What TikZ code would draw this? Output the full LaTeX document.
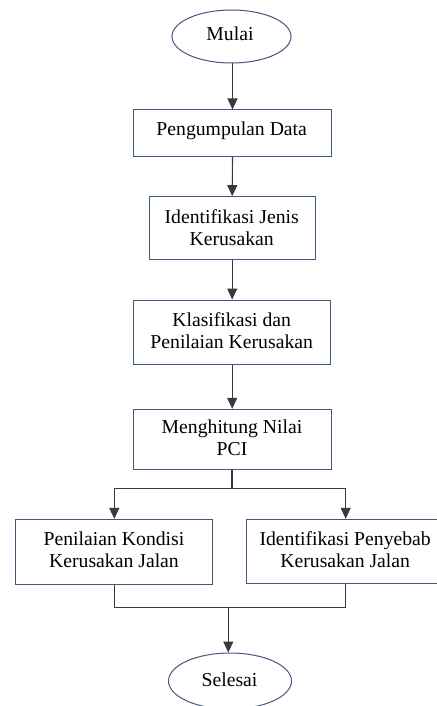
\documentclass[tikz,border=0pt]{standalone}
\usepackage{fontspec}
\setmainfont{Liberation Serif}
\usetikzlibrary{arrows.meta,shapes.geometric,calc}
\definecolor{boxline}{HTML}{41597A}
\definecolor{conn}{HTML}{3A3A3A}
\tikzset{
  stepbox/.style={draw=boxline, line width=1pt, fill=white, rectangle, inner sep=0pt},
  termbox/.style={draw=boxline, line width=1pt, fill=white, ellipse, inner sep=0pt},
  lbl/.style={anchor=north, inner sep=0pt, align=center, font=\fontsize{19.7}{22}\selectfont},
  conn/.style={draw=conn, line width=1.1pt},
  arr/.style={conn, -{Triangle[width=10pt,length=11pt]}},
}
\begin{document}
\begin{tikzpicture}[x=1pt,y=-1pt]
\useasboundingbox (0,0) rectangle (436,706);
% shapes
\node[termbox, minimum width=119pt, minimum height=53pt] (start) at (231.5,36.5) {};
\node[stepbox, minimum width=198.4pt, minimum height=46.7pt] (b1) at (232.5,133.3) {};
\node[stepbox, minimum width=165.7pt, minimum height=63.3pt] (b2) at (232.2,228.3) {};
\node[stepbox, minimum width=196.7pt, minimum height=64pt] (b3) at (231.7,332) {};
\node[stepbox, minimum width=197.7pt, minimum height=60pt] (b4) at (232.2,439.3) {};
\node[stepbox, minimum width=197.3pt, minimum height=64.7pt] (b5) at (113.7,551.7) {};
\node[stepbox, minimum width=192pt, minimum height=64.4pt] (b6) at (342.7,551.5) {};
\node[termbox, minimum width=123pt, minimum height=56pt] (end) at (230,681) {};
% labels
\node[lbl] (t0) at (230,{40-15.4}) {\strut Mulai};
\node[lbl] (t1) at (231.7,{135-15.4}) {\strut Pengumpulan Data};
\node[lbl] (t2) at (231.7,{223.5-15.4}) {\strut Identifikasi Jenis\\\strut Kerusakan};
\node[lbl] (t3) at (231.7,{326.5-15.4}) {\strut Klasifikasi dan\\\strut Penilaian Kerusakan};
\node[lbl] (t4) at (232,{433.5-15.4}) {\strut Menghitung Nilai\\\strut PCI};
\node[lbl] (t5) at (114,{545-15.4}) {\strut Penilaian Kondisi\\\strut Kerusakan Jalan};
\node[lbl] (t6) at (345.2,{545-15.4}) {\strut Identifikasi Penyebab\\\strut Kerusakan Jalan};
\node[lbl] (t7) at (229.5,{686.3-15.4}) {\strut Selesai};
% connectors
\coordinate (split) at (232,488.3);
\coordinate (sl) at (114.3,488.3);
\coordinate (sr) at (345.7,488.3);
\coordinate (jl) at (114.3,607.5);
\coordinate (jr) at (345.7,607.5);
\coordinate (jm) at (228.3,607.5);
\draw[arr] (start.south -| b1.north) -- (b1.north);
\draw[arr] (b1.south) -- (b2.north);
\draw[arr] (b2.south) -- (b3.north -| b2.south);
\draw[arr] (b3.south -| b2.south) -- (b4.north -| b2.south);
\draw[conn] (b4.south -| split) -- (split);
\draw[conn] (sl) -- (sr);
\draw[arr] (sl) -- (sl |- b5.north);
\draw[arr] (sr) -- (sr |- b6.north);
\draw[conn] (jl |- b5.south) -- (jl) -- (jr) -- (jr |- b6.south);
\draw[arr] (jm) -- (jm |- end.north);
\end{tikzpicture}
\end{document}
